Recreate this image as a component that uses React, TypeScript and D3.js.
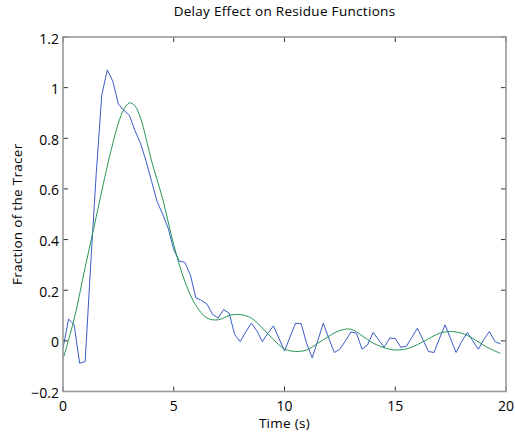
import React from "react";
import * as d3 from "d3";

const W = 515;
const H = 433;

const titleText = "Delay Effect on Residue Functions";
const xLabelText = "Time (s)";
const yLabelText = "Fraction of the Tracer";

const xTicks = [0, 5, 10, 15, 20];
const yTicks = [-0.2, 0, 0.2, 0.4, 0.6, 0.8, 1, 1.2];

// measured series (blue), sampled every 0.25 s from t = 0
const measuredStep = 0.25;
const measuredValues = [
  -0.03, 0.086, 0.065, -0.088, -0.082, 0.3, 0.66, 0.97,
  1.07, 1.025, 0.935, 0.91, 0.89, 0.83, 0.78, 0.71,
  0.63, 0.55, 0.5, 0.445, 0.36, 0.315, 0.31, 0.26,
  0.17, 0.16, 0.145, 0.105, 0.09, 0.123, 0.11, 0.025,
  -0.003, 0.035, 0.07, 0.04, -0.003, 0.03, 0.059, 0.01,
  -0.04, 0.015, 0.07, 0.068, -0.01, -0.067, 0.0, 0.07,
  0.01, -0.046, -0.033, 0.0, 0.035, 0.03, -0.033, -0.016,
  0.033, 0.004, -0.025, 0.011, 0.009, -0.025, -0.022, 0.014,
  0.05, 0.004, -0.042, -0.046, 0.01, 0.063, 0.008, -0.046,
  -0.003, 0.033, 0.0, -0.033, 0.005, 0.037, -0.003, -0.012,
];

// fitted series (green)
const fittedTimes = [
  0, 0.5, 1, 1.5, 2, 2.25, 2.5, 2.75, 3, 3.25, 3.5, 3.75, 4, 4.5, 5, 5.5, 6, 6.5,
  7, 7.5, 8, 8.5, 9, 9.5, 10, 10.5, 11, 11.5, 12, 12.5, 13, 13.5, 14, 14.5,
  15, 15.5, 16, 16.5, 17, 17.5, 18, 18.5, 19, 19.5, 19.75,
];
const fittedValues = [
  -0.072, 0.085, 0.29, 0.49, 0.69, 0.78, 0.86, 0.915, 0.94, 0.928, 0.88, 0.8, 0.71, 0.56, 0.38, 0.235, 0.14, 0.09,
  0.083, 0.1, 0.104, 0.09, 0.05, 0.005, -0.032, -0.042, -0.036, -0.01, 0.018, 0.041, 0.046, 0.02, -0.009, -0.027,
  -0.036, -0.032, -0.015, 0.008, 0.03, 0.037, 0.03, 0.01, -0.018, -0.04, -0.049,
];

const FONT = "'Open Sans', 'Noto Sans', sans-serif";

export default function App() {
  const left = 63;
  const right = 506;
  const top = 37;
  const bottom = 391.5;

  const x = d3.scaleLinear().domain([0, 20]).range([left, right]);
  const y = d3.scaleLinear().domain([-0.2, 1.2]).range([bottom, top]);

  const measured = measuredValues.map((v, i) => [i * measuredStep, v] as [number, number]);
  const fitted = fittedTimes.map((t, i) => [t, fittedValues[i]] as [number, number]);

  const lineStraight = d3
    .line<[number, number]>()
    .x((d) => x(d[0]))
    .y((d) => y(d[1]));
  const lineSmooth = d3
    .line<[number, number]>()
    .x((d) => x(d[0]))
    .y((d) => y(d[1]))
    .curve(d3.curveCatmullRom.alpha(0.5));

  const tickLen = 5;
  const tickColor = "#333";

  return (
    <svg
      width={W}
      height={H}
      style={{ position: "absolute", left: 0, top: 0, background: "#fff" }}
      fontFamily={FONT}
    >
      <rect x={0} y={0} width={W} height={H} fill="#fff" />
      <defs>
        <clipPath id="plotclip">
          <rect x={left} y={top} width={right - left} height={bottom - top} />
        </clipPath>
      </defs>

      <g clipPath="url(#plotclip)">
        <path d={lineStraight(measured) || ""} fill="none" stroke="#3a5cc6" strokeWidth={1} />
        <path d={lineSmooth(fitted) || ""} fill="none" stroke="#259655" strokeWidth={1} />
      </g>

      {/* ticks */}
      {xTicks.map((t) => (
        <g key={"xt" + t}>
          <line x1={x(t)} x2={x(t)} y1={bottom} y2={bottom - tickLen} stroke={tickColor} strokeWidth={1} />
          <line x1={x(t)} x2={x(t)} y1={top} y2={top + tickLen} stroke={tickColor} strokeWidth={1} />
          <text x={x(t)} y={bottom + 19.5} textAnchor="middle" fontSize={14} fill="#000">
            {t}
          </text>
        </g>
      ))}
      {yTicks.map((t) => (
        <g key={"yt" + t}>
          <line x1={left} x2={left + tickLen} y1={y(t)} y2={y(t)} stroke={tickColor} strokeWidth={1} />
          <line x1={right} x2={right - tickLen} y1={y(t)} y2={y(t)} stroke={tickColor} strokeWidth={1} />
          <text x={left - 4} y={y(t) + 6.5} textAnchor="end" fontSize={14} fill="#000">
            {d3.format("")(t)}
          </text>
        </g>
      ))}

      {/* axes box */}
      <rect
        x={left}
        y={top}
        width={right - left}
        height={bottom - top}
        fill="none"
        stroke="#999"
        strokeWidth={1.6}
      />

      <text x={(left + right) / 2} y={16} textAnchor="middle" fontSize={13.5} letterSpacing={0.3} fill="#000">
        {titleText}
      </text>
      <text x={(left + right) / 2} y={428} textAnchor="middle" fontSize={13.5} letterSpacing={0.3} fill="#000">
        {xLabelText}
      </text>
      <text
        transform={`translate(22, ${(top + bottom) / 2}) rotate(-90)`}
        textAnchor="middle"
        fontSize={13.5}
        letterSpacing={0.3}
        fill="#000"
      >
        {yLabelText}
      </text>
    </svg>
  );
}
